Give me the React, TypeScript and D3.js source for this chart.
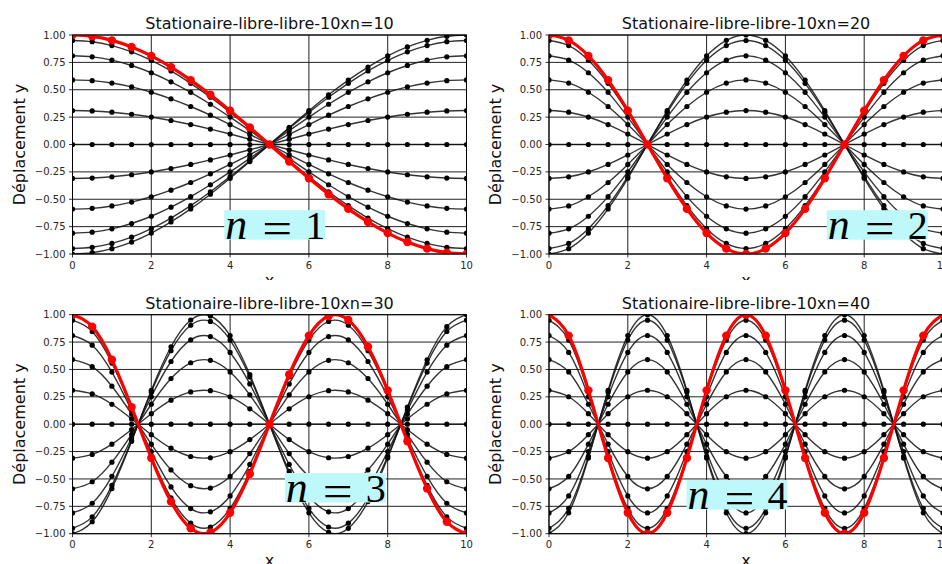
import React from "react";
import * as d3 from "d3";

// ---- data ----
const modes = [1, 2, 3, 4];
const titles = [
  "Stationaire-libre-libre-10xn=10",
  "Stationaire-libre-libre-10xn=20",
  "Stationaire-libre-libre-10xn=30",
  "Stationaire-libre-libre-10xn=40",
];
const xs = [0, 0.5, 1, 1.5, 2, 2.5, 3, 3.5, 4, 4.5, 5, 5.5, 6, 6.5, 7, 7.5, 8, 8.5, 9, 9.5, 10];
// mode shapes sampled at xs
const profileN1 = [1, 0.988, 0.951, 0.891, 0.809, 0.707, 0.588, 0.454, 0.309, 0.156, 0, -0.156, -0.309, -0.454, -0.588, -0.707, -0.809, -0.891, -0.951, -0.988, -1];
const profileN2 = [1, 0.951, 0.809, 0.588, 0.309, 0, -0.309, -0.588, -0.809, -0.951, -1, -0.951, -0.809, -0.588, -0.309, 0, 0.309, 0.588, 0.809, 0.951, 1];
const profileN3 = [1, 0.891, 0.588, 0.156, -0.309, -0.707, -0.951, -0.988, -0.809, -0.454, 0, 0.454, 0.809, 0.988, 0.951, 0.707, 0.309, -0.156, -0.588, -0.891, -1];
const profileN4 = [1, 0.809, 0.309, -0.309, -0.809, -1, -0.809, -0.309, 0.309, 0.809, 1, 0.809, 0.309, -0.309, -0.809, -1, -0.809, -0.309, 0.309, 0.809, 1];
const profiles = [profileN1, profileN2, profileN3, profileN4];
// amplitudes of the successive snapshots (first one in red)
const amplitudes = [1.0, 0.95, 0.81, 0.59, 0.31, 0.0, -0.31, -0.59, -0.81, -0.95, -1.0];
const xTicks = [0, 2, 4, 6, 8, 10];
const yTicks = [1.0, 0.75, 0.5, 0.25, 0.0, -0.25, -0.5, -0.75, -1.0];
const labelTexts = ["1", "2", "3", "4"];

// ---- layout ----
const W = 942;
const H = 564;
const tiles = [
  { x: 0, y: 0, w: 476.5, h: 280 },
  { x: 476.5, y: 0, w: 466, h: 280 },
  { x: 0, y: 279.7, w: 476.5, h: 285 },
  { x: 476.5, y: 279.7, w: 466, h: 285 },
];
const labelPos = [
  { x: 3.85, y: -0.6 },
  { x: 7.05, y: -0.6 },
  { x: 5.39, y: -0.446 },
  { x: 3.49, y: -0.51 },
];
const AX_L = 72.5, AX_R = 466.5, AX_T = 35, AX_B = 254;

const fmtY = (v: number) => {
  const s = Math.abs(v).toFixed(2);
  return v < 0 ? "\u2212" + s : s;
};

function Panel({ idx }: { idx: number }) {
  const t = tiles[idx];
  const x = d3.scaleLinear().domain([0, 10]).range([AX_L, AX_R]);
  const y = d3.scaleLinear().domain([-1, 1]).range([AX_B, AX_T]);
  const prof = profiles[idx];
  const line = d3
    .line<[number, number]>()
    .x((d) => x(d[0]))
    .y((d) => y(d[1]))
    .curve(d3.curveNatural);
  const clipId = `clip-${idx}`;
  const cx = (AX_L + AX_R) / 2;
  const lp = labelPos[idx];
  const bx = x(lp.x);
  const by = y(lp.y);
  const font = "'DejaVu Sans', sans-serif";
  const serif = "'Liberation Serif', 'DejaVu Serif', serif";

  const series = amplitudes.map((a) => xs.map((xv, i) => [xv, a * prof[i]] as [number, number]));

  return (
    <svg x={t.x} y={t.y} width={t.w} height={t.h} overflow="hidden">
      <defs>
        <clipPath id={clipId}>
          <rect x={AX_L} y={AX_T} width={AX_R - AX_L} height={AX_B - AX_T} />
        </clipPath>
      </defs>
      <rect x={AX_L} y={AX_T} width={AX_R - AX_L} height={AX_B - AX_T} fill="#fff" />
      {/* grid */}
      {xTicks.map((v) => (
        <line key={"gx" + v} x1={x(v)} x2={x(v)} y1={AX_T} y2={AX_B} stroke="#222" strokeWidth={1} />
      ))}
      {yTicks.map((v) => (
        <line key={"gy" + v} x1={AX_L} x2={AX_R} y1={y(v)} y2={y(v)} stroke="#222" strokeWidth={1} />
      ))}
      {/* data */}
      <g clipPath={`url(#${clipId})`}>
        {series.map((s, k) =>
          k === 0 ? null : (
            <g key={"s" + k}>
              <path d={line(s) || ""} fill="none" stroke="#111" strokeWidth={1.4} strokeOpacity={0.85} />
              {s.map((p, i) => (
                <circle key={i} cx={x(p[0])} cy={y(p[1])} r={2.6} fill="#000" />
              ))}
            </g>
          )
        )}
        <g>
          <path d={line(series[0]) || ""} fill="none" stroke="#ff0000" strokeWidth={3.2} />
          {series[0].map((p, i) => (
            <circle key={i} cx={x(p[0])} cy={y(p[1])} r={4.2} fill="#ff0000" />
          ))}
        </g>
      </g>
      {/* frame */}
      <rect x={AX_L} y={AX_T} width={AX_R - AX_L} height={AX_B - AX_T} fill="none" stroke="#000" strokeWidth={1} />
      {/* ticks */}
      {xTicks.map((v) => (
        <g key={"tx" + v}>
          <line x1={x(v)} x2={x(v)} y1={AX_B} y2={AX_B + 3.5} stroke="#000" strokeWidth={0.8} />
          <text x={x(v)} y={AX_B + 14.5} fontSize={10} fontFamily={font} fill="#262626" textAnchor="middle">
            {v}
          </text>
        </g>
      ))}
      {yTicks.map((v) => (
        <g key={"ty" + v}>
          <line x1={AX_L - 3.5} x2={AX_L} y1={y(v)} y2={y(v)} stroke="#000" strokeWidth={0.8} />
          <text x={AX_L - 7} y={y(v) + 3.6} fontSize={10} fontFamily={font} fill="#262626" textAnchor="end">
            {fmtY(v)}
          </text>
        </g>
      ))}
      {/* title & axis labels */}
      <text x={cx} y={29.3} fontSize={16} fontFamily={font} fill="#111" textAnchor="middle">
        {titles[idx]}
      </text>
      <text
        transform={`translate(24.5, ${(AX_T + AX_B) / 2}) rotate(-90)`}
        fontSize={16}
        fontFamily={font}
        fill="#111"
        textAnchor="middle"
      >
        Déplacement y
      </text>
      <text x={cx} y={286} fontSize={16} fontFamily={font} fill="#111" textAnchor="middle">
        x
      </text>
      {/* mode label */}
      <g>
        <rect x={bx} y={by} width={101} height={29.5} fill="#bff8fa" />
        <text x={bx + 12} y={by + 28.5} fontSize={44} fontFamily={serif} fontStyle="italic" fill="#000" textAnchor="middle">
          n
        </text>
        <text
          x={bx + 38}
          y={by + 33}
          fontSize={44}
          fontFamily={serif}
          fill="#000"
          textLength={30}
          lengthAdjust="spacingAndGlyphs"
        >
          =
        </text>
        <text x={bx + 91} y={by + 28.5} fontSize={40} fontFamily={serif} fill="#000" textAnchor="middle">
          {labelTexts[idx]}
        </text>
      </g>
    </svg>
  );
}

export default function App() {
  return (
    <svg
      width={W}
      height={H}
      style={{ display: "block", position: "absolute", left: 0, top: 0, background: "#fff" }}
    >
      <rect width={W} height={H} fill="#fff" />
      {modes.map((m, i) => (
        <Panel key={m} idx={i} />
      ))}
    </svg>
  );
}
